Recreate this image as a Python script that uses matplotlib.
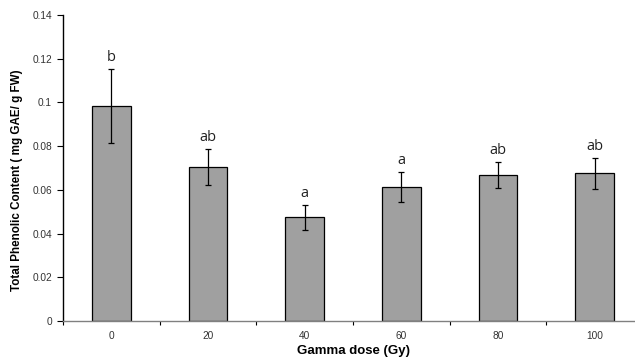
import matplotlib.pyplot as plt
import numpy as np

# Data
doses = ['0', '20', '40', '60', '80', '100']
phenolic = [0.0983, 0.0703, 0.0474, 0.0612, 0.0667, 0.0675]
errors = [0.0170, 0.0083, 0.0058, 0.0069, 0.0060, 0.0070]
letters = ['b', 'ab', 'a', 'a', 'ab', 'ab']


def main():
    fig = plt.figure(figsize=(6.35, 3.6), dpi=100)
    ax = fig.add_axes([63 / 635, 1 - 321 / 360, 580 / 635, 306 / 360])

    x = np.arange(len(doses))
    ax.bar(x, phenolic, width=0.40, color='#a0a0a0', edgecolor='black', linewidth=0.9, zorder=2)
    ax.errorbar(x, phenolic, yerr=errors, fmt='none', ecolor='black', elinewidth=0.9,
                capsize=2.5, capthick=0.9, zorder=3)

    # Significance letters above error bars
    for xi, v, e, lab in zip(x, phenolic, errors, letters):
        ax.annotate(lab, (xi, v + e), xytext=(0, 3), textcoords='offset points',
                    ha='center', va='bottom', fontsize=10.5, family='Open Sans', color='#222222')

    ax.set_xlim(-0.5, len(doses) - 0.5)
    ax.set_ylim(0, 0.14)
    ax.set_yticks(np.arange(0, 0.141, 0.02))
    ax.set_yticklabels(['0', '0.02', '0.04', '0.06', '0.08', '0.1', '0.12', '0.14'])
    ax.set_xticks(x)
    ax.set_xticklabels(doses)
    ax.set_xticks(np.arange(-0.5, len(doses), 1.0), minor=True)

    for s in ['top', 'right']:
        ax.spines[s].set_visible(False)
    ax.spines['left'].set_linewidth(1.0)
    ax.spines['bottom'].set_color('#808080')
    ax.spines['bottom'].set_linewidth(1.0)

    ax.tick_params(axis='y', direction='out', length=4, width=0.8, labelsize=7.3,
                   colors='black', pad=4)
    ax.tick_params(axis='x', which='major', length=0, labelsize=7.3, pad=7)
    ax.tick_params(axis='x', which='minor', direction='out', length=3, width=0.8, color='black')
    for t in ax.get_xticklabels() + ax.get_yticklabels():
        t.set_family('Liberation Sans')
        t.set_color('#333333')

    ax.set_xlabel('Gamma dose (Gy)', fontsize=9.5, fontweight='bold', family='Liberation Sans', labelpad=3)
    ax.set_ylabel('Total Phenolic Content ( mg GAE/ g FW)', fontsize=8.4, fontweight='bold',
                  family='Liberation Sans')
    ax.yaxis.set_label_coords(-0.069, 0.46)

    fig.savefig('out.png', dpi=100)


if __name__ == '__main__':
    main()
